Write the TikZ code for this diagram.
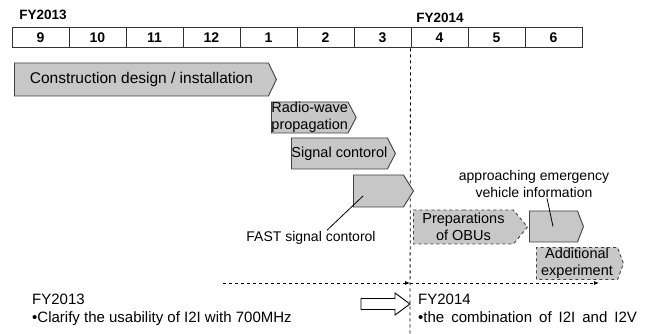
\documentclass[tikz,border=0pt]{standalone}
\usepackage{fontspec}
\setmainfont{Liberation Sans}
\usetikzlibrary{positioning,arrows.meta,shapes.symbols}

\begin{document}
\begin{tikzpicture}[
        x=1pt, y=-1pt,
        month/.style={
            rectangle,
            draw=black!80,
            line width=1pt,
            minimum width=57pt,
            minimum height=20pt,
            inner sep=0pt,
            font=\fontsize{14}{14}\selectfont\bfseries
        },
        phase/.style={
            signal,
            signal to=east,
            draw=black!75,
            fill=black!22,
            line width=0.9pt,
            inner sep=1pt,
            anchor=west,
            align=center,
            font=\fontsize{14.5}{16.5}\selectfont
        },
        planned/.style={phase, dashed},
        year/.style={font=\fontsize{13.5}{13.5}\selectfont\bfseries},
        note/.style={anchor=north west, align=left, inner sep=0pt,
            font=\fontsize{15}{17.5}\selectfont},
        label/.style={align=center, inner sep=1pt,
            font=\fontsize{14}{17}\selectfont},
        timeline/.style={dashed, line width=0.8pt, -{Latex[length=5pt,width=4pt]}}
    ]

    \useasboundingbox (0,0) rectangle (649,334);

    % months
    \node[year] (fy13) at (43,15) {FY2013};
    \node[year] (fy14) at (440,18) {FY2014};
    \foreach \m [count=\i from 0] in {9,10,11,12,1,2,3,4,5,6}
        \node[month] (m\m) at (40.5+57*\i,38) {\m};

    % year boundary
    \coordinate (yearend) at (410,334);
    \draw[dashed, line width=0.8pt] (m4.south west) -- (yearend);

    % phases
    \node[phase, minimum width=262pt, minimum height=33pt,
          signal pointer angle=128, font=\fontsize{15.5}{18}\selectfont]
          (construct) at (14,79.5)
        {Construction design / installation};

    \node[phase, minimum height=31pt, align=left, inner sep=0pt,
          signal pointer angle=125] (radio) at (271,117.5)
        {Radio-wave\\propagation};

    \node[phase, minimum width=102pt, minimum height=31pt, inner xsep=0pt,
          signal pointer angle=125] (signal) at (291,153.5)
        {Signal contorol};

    \node[phase, minimum width=60pt, minimum height=32pt,
          signal pointer angle=116] (fast) at (353,191) {};

    \node[planned, minimum width=114pt, minimum height=34pt,
          signal pointer angle=101] (obu) at (413,227)
        {Preparations\\of OBUs};

    \node[phase, minimum width=54pt, minimum height=31pt,
          signal pointer angle=138] (ambulance) at (529,226.5) {};

    \node[planned, minimum width=87pt, minimum height=31pt,
          signal pointer angle=140] (extra) at (536,263.5)
        {Additional\\experiment};

    % callouts
    \node[label] (fastlabel) at (311,238) {FAST signal contorol};
    \draw[line width=0.8pt] ([shift={(10,5)}]fast.west) -- ([xshift=16pt]fastlabel.north);

    \node[label] (ambulabel) at (534,183.5)
        {approaching emergency\\vehicle information};
    \draw[line width=0.8pt] ([xshift=13pt]ambulabel.south) -- ([shift={(24,0)}]ambulance.west);

    % timeline
    \coordinate (tlstart) at (223,283);
    \coordinate (split) at (410,283);
    \coordinate (tlend) at (599,283);
    \draw[timeline] (tlstart) -- (split);
    \draw[timeline] (split) -- (tlend);

    % notes
    \node[note] (note13) at (32,294)
        {FY2013\\•Clarify the usability of I2I with 700MHz};
    \node[note] (note14) at (418,294)
        {FY2014\\\spaceskip=7pt plus 1pt\relax •the combination of I2I and I2V};

    \coordinate (shaft) at (361,304);
    \draw[line width=0.9pt, fill=white]
        (shaft) ++(0,-5.5) -- ++(34,0) -- ++(0,-5.5) -- (410,304)
        -- (395,315) -- ++(0,-5.5) -- ++(-34,0) -- cycle;

\end{tikzpicture}
\end{document}
